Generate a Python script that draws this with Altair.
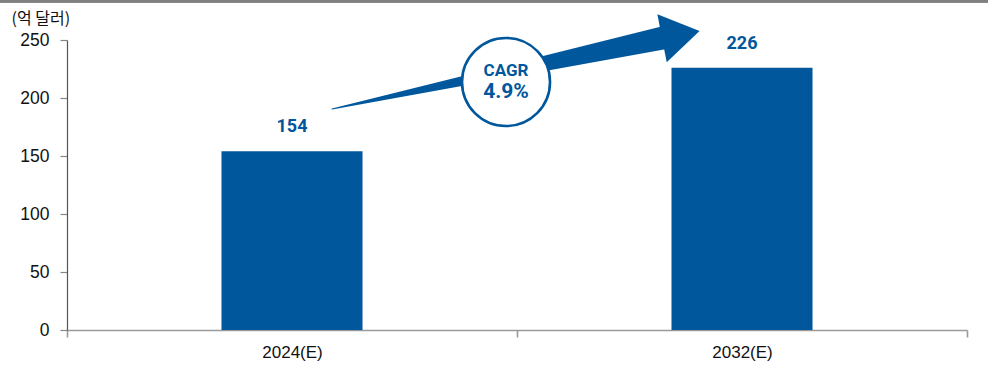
import altair as alt
import pandas as pd

# ---- data ----
categories = ["2024(E)", "2032(E)"]
values = [154, 226]
y_ticks = [0, 50, 100, 150, 200, 250]
unit_label = "(억 달러)"

cagr_title = "CAGR"
cagr_value = "4.9%"

# arrow annotation (x in category units 0..2, y in data units)
arrow_x = [0.589, 1.324]
arrow_y = [190.5, 251.7]
arrow_w = [0, 23]
head_x = [1.364]
head_y = [254.7]
badge_x = [0.9756]
badge_y = [213.8]
badge_text_y = [223.3, 205.0]

BLUE = "#01579c"

bars_df = pd.DataFrame({"cat": categories, "val": values})
arrow_df = pd.DataFrame({"x": arrow_x, "y": arrow_y, "w": arrow_w})
head_df = pd.DataFrame({"x": head_x, "y": head_y})
badge_df = pd.DataFrame({"x": badge_x, "y": badge_y})
badge_txt_df = pd.DataFrame({"x": badge_x * 2, "y": badge_text_y,
                             "t": [cagr_title, cagr_value], "fs": [17, 21]})

yscale = alt.Scale(domain=[0, 250], nice=False)
xband = alt.Scale(paddingInner=0, paddingOuter=0)

bars = alt.Chart(bars_df).mark_bar(color=BLUE, width=141).encode(
    x=alt.X("cat:N", scale=xband, sort=categories,
            axis=alt.Axis(title=None, labelAngle=0, tickBand="extent",
                          domainColor="#9a9a9a", domainWidth=1.6,
                          tickColor="#9a9a9a", tickWidth=1.6, tickSize=7,
                          labelFontSize=17, labelColor="#111",
                          labelFont="Liberation Sans", labelPadding=7)),
    y=alt.Y("val:Q", scale=yscale,
            axis=alt.Axis(values=y_ticks, title=unit_label, titleAngle=0,
                          titleAlign="left", titleBaseline="middle",
                          titleX=-56, titleY=-22, titleFontSize=16,
                          titleFontWeight="normal", titleColor="#111",
                          titleFont="Noto Sans CJK KR",
                          grid=False, domainColor="#555", domainWidth=1.2,
                          tickColor="#888", tickSize=7, tickWidth=1.2,
                          labelFontSize=17.5, labelColor="#111",
                          labelFont="Liberation Sans", labelPadding=11)),
)

labels = alt.Chart(bars_df).mark_text(
    color=BLUE, fontWeight="bold", fontSize=18, font="Roboto",
    dy=-24, baseline="middle", align="center"
).encode(
    x=alt.X("cat:N", scale=xband, sort=categories, axis=None),
    y=alt.Y("val:Q", scale=yscale, axis=None),
    text=alt.Text("val:Q"),
)

xq = alt.Scale(domain=[0, 2], nice=False, zero=False)

shaft = alt.Chart(arrow_df).mark_trail(color=BLUE).encode(
    x=alt.X("x:Q", scale=xq, axis=None),
    y=alt.Y("y:Q", scale=yscale, axis=None),
    size=alt.Size("w:Q", scale=None, legend=None),
    order=alt.Order("x:Q"),
)

head = alt.Chart(head_df).mark_point(
    shape="M -0.78 -1 L 0.78 0 L -0.78 1 Z", filled=True, color=BLUE,
    opacity=1, size=2401, angle=349
).encode(
    x=alt.X("x:Q", scale=xq, axis=None),
    y=alt.Y("y:Q", scale=yscale, axis=None),
)

badge = alt.Chart(badge_df).mark_point(
    shape="circle", filled=True, fill="white", stroke=BLUE, strokeWidth=2.6,
    opacity=1, fillOpacity=1, strokeOpacity=1, size=7744
).encode(
    x=alt.X("x:Q", scale=xq, axis=None),
    y=alt.Y("y:Q", scale=yscale, axis=None),
)

badge_text = alt.Chart(badge_txt_df).mark_text(
    color=BLUE, fontWeight="bold", font="Roboto", align="center",
    baseline="middle"
).encode(
    x=alt.X("x:Q", scale=xq, axis=None),
    y=alt.Y("y:Q", scale=yscale, axis=None),
    text="t:N",
    size=alt.Size("fs:Q", scale=None, legend=None),
)

top_line = alt.Chart(bars_df).mark_rule(color="#808080", strokeWidth=2.7).encode(
    x=alt.value(-67), x2=alt.value(921), y=alt.value(-38.7)
)

base = alt.layer(bars, labels).resolve_axis(x="independent", y="independent")
overlay = alt.layer(shaft, head, badge, badge_text, top_line).resolve_axis(
    x="independent", y="independent")

chart = alt.layer(base, overlay).resolve_scale(x="independent").resolve_axis(
    x="independent", y="independent"
).properties(
    width=900, height=290,
    padding={"left": 67, "top": 40, "right": 21, "bottom": 37},
    autosize="none",
).configure_view(stroke=None)

chart.save("out.html", embed_options={"renderer": "svg", "actions": False})
